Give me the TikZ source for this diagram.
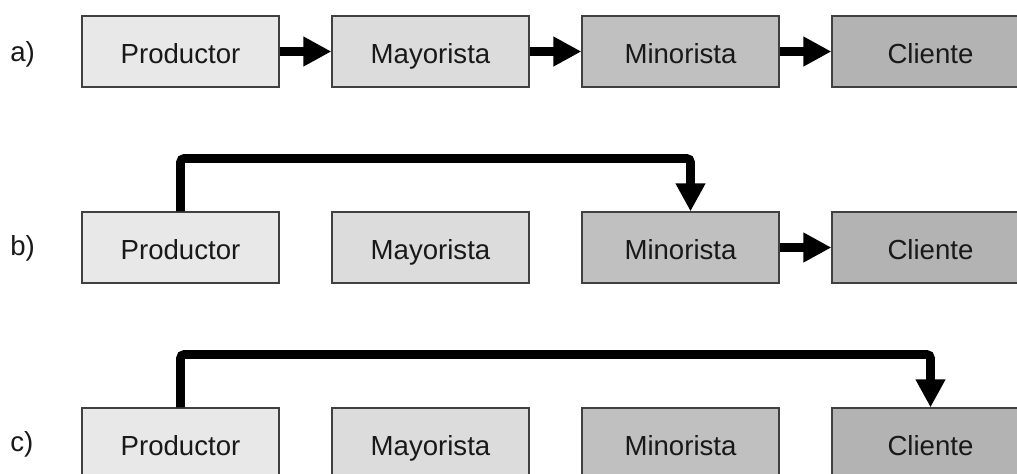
\documentclass[tikz,border=0pt]{standalone}
\usepackage{fontspec}
\setmainfont{Liberation Sans}
\usetikzlibrary{arrows.meta}
\definecolor{cprod}{HTML}{E8E8E8}
\definecolor{cmay}{HTML}{DCDCDC}
\definecolor{cmin}{HTML}{C0C0C0}
\definecolor{ccli}{HTML}{B3B3B3}
\definecolor{cborder}{HTML}{404040}
\begin{document}
\begin{tikzpicture}[x=0.5pt,y=-0.5pt,
  box/.style={draw=cborder, line width=0.6pt, minimum width=98.5pt, minimum height=35.5pt,
    inner sep=0pt, text height=12pt, text depth=0.2pt,
    font=\fontsize{13.8}{16}\selectfont, text=black!90},
  lbl/.style={anchor=base west, inner sep=0pt, font=\fontsize{13.8}{16}\selectfont, text=black!90},
  flow/.style={line width=4.4pt, -{Triangle[length=14pt,width=14pt]}},
  jump/.style={line width=4.4pt, rounded corners=2pt, -{Triangle[length=14pt,width=14pt]}}]
\useasboundingbox (0,0) rectangle (1017,473);
% row a
\node[lbl] (la) at (10,61) {a)};
\node[box, fill=cprod] (a1) at (180.5,51.5) {Productor};
\node[box, fill=cmay]  (a2) at (430.5,51.5) {Mayorista};
\node[box, fill=cmin]  (a3) at (680.5,51.5) {Minorista};
\node[box, fill=ccli]  (a4) at (930.5,51.5) {Cliente};
\draw[flow] (a1) -- (a2);
\draw[flow] (a2) -- (a3);
\draw[flow] (a3) -- (a4);
% row b
\node[lbl] (lb) at (10,255) {b)};
\node[box, fill=cprod] (b1) at (180.5,247.5) {Productor};
\node[box, fill=cmay]  (b2) at (430.5,247.5) {Mayorista};
\node[box, fill=cmin]  (b3) at (680.5,247.5) {Minorista};
\node[box, fill=ccli]  (b4) at (930.5,247.5) {Cliente};
\draw[jump] (b1.north) -- ++(0,-53) -| ([xshift=5pt]b3.north);
\draw[flow] (b3) -- (b4);
% row c
\node[lbl] (lc) at (10,451) {c)};
\node[box, fill=cprod] (c1) at (180.5,443.5) {Productor};
\node[box, fill=cmay]  (c2) at (430.5,443.5) {Mayorista};
\node[box, fill=cmin]  (c3) at (680.5,443.5) {Minorista};
\node[box, fill=ccli]  (c4) at (930.5,443.5) {Cliente};
\draw[jump] (c1.north) -- ++(0,-53) -| (c4.north);
\end{tikzpicture}
\end{document}
